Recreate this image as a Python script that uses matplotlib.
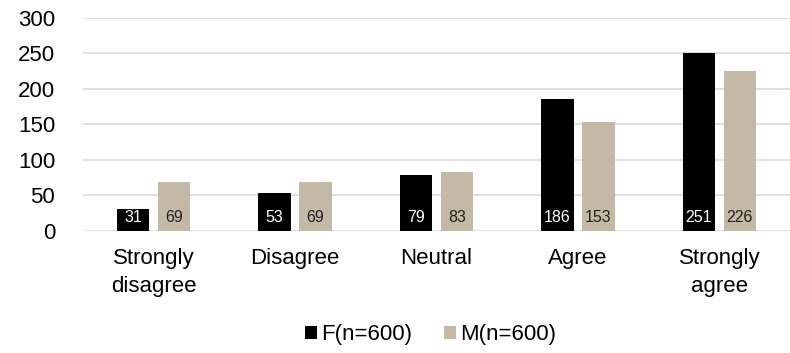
import numpy as np
import matplotlib.pyplot as plt

plt.rcParams['font.family'] = ['Liberation Sans', 'DejaVu Sans']

categories = ['Strongly\ndisagree', 'Disagree', 'Neutral', 'Agree', 'Strongly\nagree']
female = [31, 53, 79, 186, 251]
male = [69, 69, 83, 153, 226]
series_names = ['F(n=600)', 'M(n=600)']
colors = ['#000000', '#C3B9A6']

fig = plt.figure(figsize=(7.9, 3.53), dpi=100)
ax = fig.add_axes([0.105, 0.346, 0.895, 0.603])

x = np.arange(len(categories))
w = 0.23
gap = 0.06
b1 = ax.bar(x - (w + gap) / 2, female, w, color=colors[0], label=series_names[0], zorder=3)
b2 = ax.bar(x + (w + gap) / 2, male, w, color=colors[1], label=series_names[1], zorder=3)

for bars, vals, tc in [(b1, female, 'white'), (b2, male, '#222222')]:
    for r, v in zip(bars, vals):
        ax.annotate(str(v), (r.get_x() + r.get_width() / 2, 0), xytext=(0, 4),
                    textcoords='offset points', ha='center', va='bottom',
                    fontsize=11.5, color=tc, zorder=4)

ax.set_xlim(-0.5, len(categories) - 0.5)
ax.set_ylim(0, 300)
ax.set_yticks(range(0, 301, 50))
ax.set_xticks(x)
ax.set_xticklabels(categories, fontsize=16, linespacing=1.45)
ax.tick_params(axis='y', labelsize=16, length=0, pad=20)
ax.tick_params(axis='x', length=0, pad=12)
ax.yaxis.grid(True, color='#D9D9D9', linewidth=1.2, zorder=0)
for s in ax.spines.values():
    s.set_visible(False)

fig.legend(loc='lower center', bbox_to_anchor=(0.545, -0.035), ncol=2, frameon=False,
           fontsize=16, handlelength=0.55, handleheight=0.55, handletextpad=0.2,
           columnspacing=1.4)

fig.savefig('out.png', dpi=100)
